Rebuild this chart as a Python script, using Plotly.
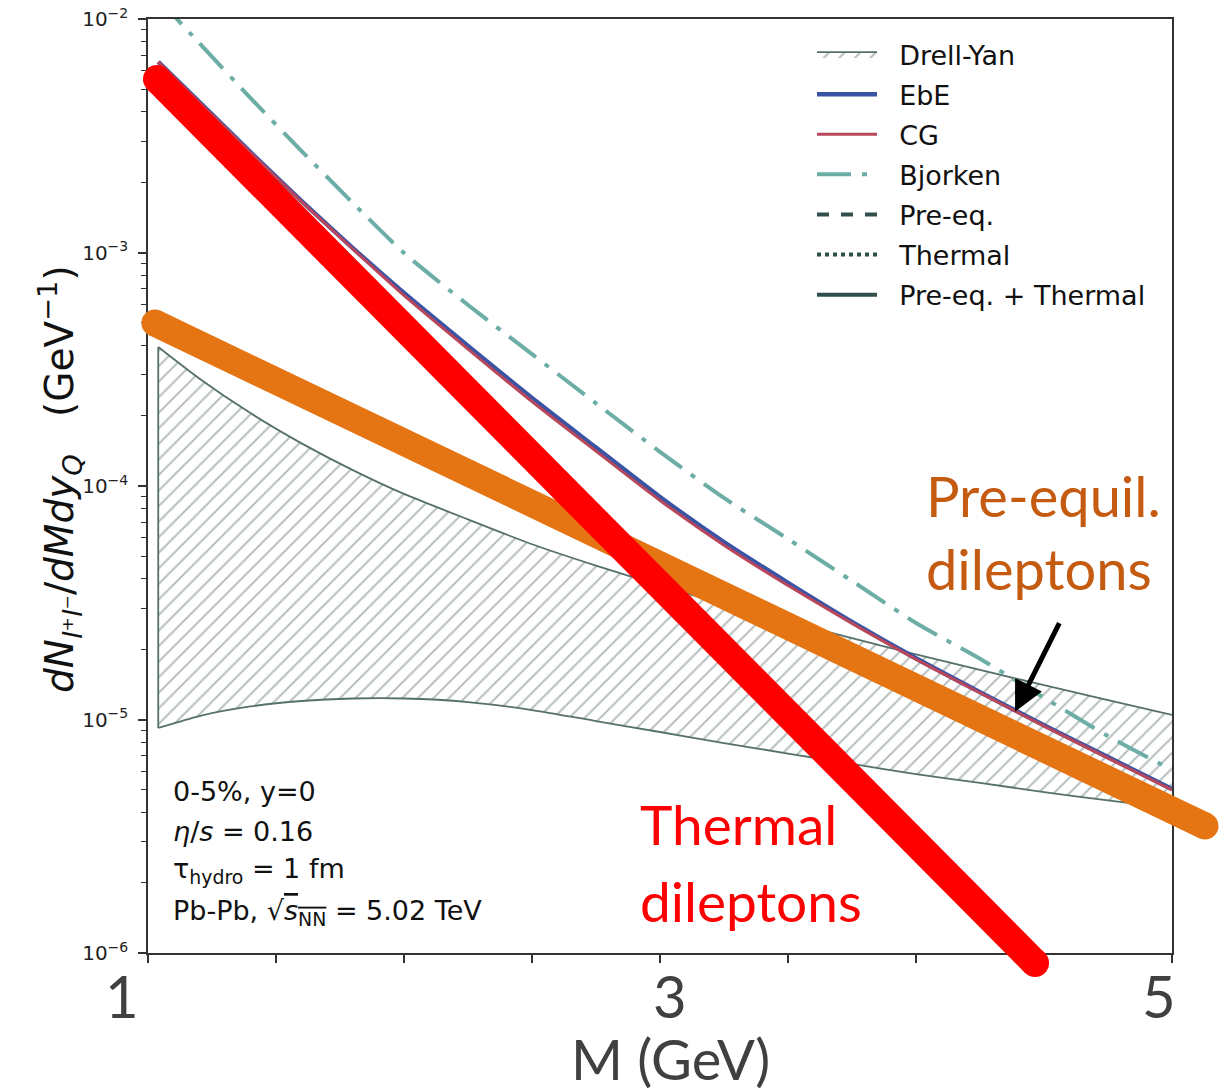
import math
import plotly.graph_objects as go

W, H = 1221, 1089

# ---------------- data ----------------
mass = [1.04, 1.2, 1.4, 1.6, 1.8, 2.0, 2.25, 2.5, 2.75, 3.0, 3.25, 3.5, 3.75, 4.0, 4.25, 4.5, 4.75, 5.0]
ebe = [6.55e-3, 4.42e-3, 2.69e-3, 1.66e-3, 1.045e-3, 6.71e-4, 3.98e-4, 2.38e-4, 1.46e-4, 8.97e-5,
       5.75e-5, 3.85e-5, 2.62e-5, 1.83e-5, 1.31e-5, 9.46e-6, 6.90e-6, 5.04e-6]
cg = [6.55e-3, 4.40e-3, 2.68e-3, 1.65e-3, 1.035e-3, 6.55e-4, 3.86e-4, 2.30e-4, 1.41e-4, 8.67e-5,
      5.58e-5, 3.75e-5, 2.58e-5, 1.81e-5, 1.30e-5, 9.37e-6, 6.83e-6, 4.99e-6]
bjorken = [1.22e-2, 7.89e-3, 4.59e-3, 2.72e-3, 1.63e-3, 9.95e-4, 5.96e-4, 3.67e-4, 2.26e-4, 1.40e-4,
           8.89e-5, 5.93e-5, 3.92e-5, 2.59e-5, 1.82e-5, 1.24e-5, 8.49e-6, 6.08e-6]
dy_upper = [3.935e-4, 2.886e-4, 2.052e-4, 1.523e-4, 1.170e-4, 9.25e-5, 7.19e-5, 5.63e-5, 4.56e-5, 3.75e-5,
            3.12e-5, 2.63e-5, 2.23e-5, 1.90e-5, 1.63e-5, 1.403e-5, 1.21e-5, 1.046e-5]
dy_lower = [9.20e-6, 1.035e-5, 1.137e-5, 1.20e-5, 1.23e-5, 1.23e-5, 1.188e-5, 1.098e-5, 9.85e-6, 8.84e-6,
            7.93e-6, 7.15e-6, 6.45e-6, 5.84e-6, 5.35e-6, 4.89e-6, 4.50e-6, 4.16e-6]

# hand-drawn overlay strokes (start / end points)
thermal_mass = [1.035, 4.465]
thermal_line = [5.53e-3, 9.06e-7]
preeq_mass = [1.027, 5.129]
preeq_line = [4.99e-4, 3.50e-6]

# arrow tip (M, value)
arrow_tip = [4.387, 1.08e-5]

# ticks / labels
x_tick_vals = [1.0, 1.5, 2.0, 2.5, 3.0, 3.5, 4.0, 4.5, 5.0]
x_label_vals = [1, 3, 5]
x_label_text = ["1", "3", "5"]
y_tick_vals = [1e-6, 1e-5, 1e-4, 1e-3, 1e-2]
y_tick_text = ["10<sup>−6</sup>", "10<sup>−5</sup>", "10<sup>−4</sup>", "10<sup>−3</sup>", "10<sup>−2</sup>"]
y_minor_vals = [m * 10.0 ** e for e in range(-6, -2) for m in range(2, 10)]

legend_names = ["Drell-Yan", "EbE", "CG", "Bjorken", "Pre-eq.", "Thermal", "Pre-eq. + Thermal"]
info_lines = [
    "0-5%, y=0",
    "<i>η</i>/<i>s</i> = 0.16",
    "τ<sub>hydro</sub> = 1 fm",
    "Pb-Pb, √<span style='text-decoration:overline'><i>s</i><sub>NN</sub></span> = 5.02 TeV",
]

# ---------------- geometry helpers (text placement) ----------------
def fx(p):
    return p / W


def fy(p):
    return 1 - p / H


x_dom = [fx(148), fx(1172)]
y_dom = [fy(953), fy(19)]
x_rng = [1.0, 5.0]
y_rng = [-6.0, -2.0]
# full-page overlay axes, aligned with the main axes (for strokes that run past the frame)
sx = (x_rng[1] - x_rng[0]) / (x_dom[1] - x_dom[0])
x2_rng = [x_rng[0] - x_dom[0] * sx, x_rng[0] + (1 - x_dom[0]) * sx]
sy = (y_rng[1] - y_rng[0]) / (y_dom[1] - y_dom[0])
y2_rng = [y_rng[0] - y_dom[0] * sy, y_rng[0] + (1 - y_dom[0]) * sy]

SLATE = "#2F4F4A"
DY_EDGE = "#56706B"
PAD = "\u00a0\u00a0"
fig = go.Figure()

# Drell-Yan hatched band: lower edge, then upper edge filled down to it
fig.add_trace(go.Scatter(x=mass, y=dy_lower, mode="lines", showlegend=False, hoverinfo="skip",
                         line=dict(color=DY_EDGE, width=1.8, shape="spline", smoothing=0.6)))
fig.add_trace(go.Scatter(
    x=mass, y=dy_upper, mode="lines", fill="tonexty", fillcolor="rgba(0,0,0,0)",
    fillpattern=dict(shape="/", fgcolor="#6E807C", bgcolor="rgba(0,0,0,0)", size=11, solidity=0.18),
    line=dict(color=DY_EDGE, width=1.8, shape="spline", smoothing=0.6),
    name=PAD + legend_names[0], legendgroup="g0", hoverinfo="skip"))
# left closing edge of the band
fig.add_trace(go.Scatter(x=[mass[0], mass[0]], y=[dy_lower[0], dy_upper[0]], mode="lines",
                         showlegend=False, hoverinfo="skip", line=dict(color=DY_EDGE, width=1.8)))

fig.add_trace(go.Scatter(x=mass, y=ebe, mode="lines", name=PAD + legend_names[1], legendgroup="g1",
                         line=dict(color="#3A54A5", width=4.5, shape="spline", smoothing=0.6)))
fig.add_trace(go.Scatter(x=mass, y=cg, mode="lines", name=PAD + legend_names[2], legendgroup="g2",
                         line=dict(color="#B8475B", width=3, shape="spline", smoothing=0.6)))
fig.add_trace(go.Scatter(x=mass, y=bjorken, mode="lines", name=PAD + legend_names[3], legendgroup="g3",
                         line=dict(color="#6CAEA6", width=4, dash="34px,11px,5px,11px",
                                   shape="spline", smoothing=0.6)))
fig.add_trace(go.Scatter(x=[None], y=[None], mode="lines", name=PAD + legend_names[4], legendgroup="g4",
                         line=dict(color=SLATE, width=4, dash="dash")))
fig.add_trace(go.Scatter(x=[None], y=[None], mode="lines", name=PAD + legend_names[5], legendgroup="g5",
                         line=dict(color=SLATE, width=4, dash="dot")))
fig.add_trace(go.Scatter(x=[None], y=[None], mode="lines", name=PAD + legend_names[6], legendgroup="g6",
                         line=dict(color=SLATE, width=4)))

# thick overlay strokes
fig.add_trace(go.Scatter(x=preeq_mass, y=preeq_line, xaxis="x2", yaxis="y2", mode="lines+markers",
                         line=dict(color="#E57413", width=27), marker=dict(size=27, color="#E57413"),
                         showlegend=False, hoverinfo="skip"))
fig.add_trace(go.Scatter(x=thermal_mass, y=thermal_line, xaxis="x2", yaxis="y2", mode="lines+markers",
                         line=dict(color="#FF0000", width=28), marker=dict(size=28, color="#FF0000"),
                         showlegend=False, hoverinfo="skip"))

AX = "#333333"
fig.update_layout(
    width=W, height=H,
    margin=dict(l=0, r=0, t=0, b=0, pad=0, autoexpand=False),
    paper_bgcolor="white", plot_bgcolor="rgba(0,0,0,0)",
    xaxis=dict(domain=x_dom, range=x_rng, anchor="y", tickmode="array", tickvals=x_tick_vals,
               ticktext=[""] * len(x_tick_vals), ticks="outside", ticklen=8, tickwidth=1.5,
               tickcolor=AX, showline=True, linecolor=AX, linewidth=1.5, mirror=True,
               showgrid=False, zeroline=False, automargin=False),
    yaxis=dict(domain=y_dom, type="log", range=y_rng, anchor="x", tickmode="array",
               tickvals=y_tick_vals, ticktext=y_tick_text, ticks="outside", ticklen=8, tickwidth=1.5,
               tickcolor=AX, showline=True, linecolor=AX, linewidth=1.5, mirror=True,
               showgrid=False, zeroline=False, ticklabelstandoff=6, automargin=False,
               tickfont=dict(family="DejaVu Sans", size=20, color="#222"),
               minor=dict(tickmode="array", tickvals=y_minor_vals, ticks="outside", ticklen=5,
                          tickwidth=1.2, tickcolor=AX, showgrid=False)),
    xaxis2=dict(domain=[0, 1], range=x2_rng, anchor="y2", visible=False, fixedrange=True,
                automargin=False),
    yaxis2=dict(domain=[0, 1], type="log", range=y2_rng, anchor="x2", visible=False, fixedrange=True,
                automargin=False),
    showlegend=True,
    legend=dict(x=fx(812), y=fy(30), xanchor="left", yanchor="top", traceorder="grouped",
                tracegroupgap=2, itemwidth=60, bgcolor="rgba(0,0,0,0)",
                font=dict(family="DejaVu Sans", size=27, color="#111")),
)

ann = []
# big x tick labels
x_shift = [-26, 10, -13]
for v, t, s in zip(x_label_vals, x_label_text, x_shift):
    ann.append(dict(x=v, xref="x", y=fy(995), yref="paper", text=t, showarrow=False, xshift=s,
                    xanchor="center", yanchor="middle",
                    font=dict(family="Lato", size=58, color="#404040")))
# x title
ann.append(dict(x=fx(670), y=fy(1058), xref="paper", yref="paper", text="M (GeV)", showarrow=False,
                xanchor="center", yanchor="middle", font=dict(family="Lato", size=56, color="#404040")))
# y title
ann.append(dict(x=fx(60), y=fy(479), xref="paper", yref="paper", textangle=-90, showarrow=False,
                text="<i>dN</i><sub><i>l</i>⁺<i>l</i>⁻</sub>/<i>dMdy</i><sub><i>Q</i></sub>"
                     "\u00a0\u00a0\u00a0(GeV<sup>−1</sup>)",
                xanchor="center", yanchor="middle", font=dict(family="DejaVu Sans", size=39, color="#111")))
# info box
for t, yc in zip(info_lines, [791, 831, 870, 912]):
    ann.append(dict(x=fx(171), y=fy(yc), xref="paper", yref="paper", text=t, showarrow=False,
                    xanchor="left", yanchor="middle", font=dict(family="DejaVu Sans", size=27, color="#111")))
# overlay labels
for t, yc in zip(["Pre-equil.", "dileptons"], [495, 568]):
    ann.append(dict(x=fx(924), y=fy(yc), xref="paper", yref="paper", text=t, showarrow=False,
                    xanchor="left", yanchor="middle", font=dict(family="Lato", size=56, color="#C55A11")))
for t, yc in zip(["Thermal", "dileptons"], [824, 901]):
    ann.append(dict(x=fx(638), y=fy(yc), xref="paper", yref="paper", text=t, showarrow=False,
                    xanchor="left", yanchor="middle", font=dict(family="Lato", size=55, color="#FF0000")))
# arrow
ann.append(dict(x=arrow_tip[0], y=math.log10(arrow_tip[1]), xref="x", yref="y", ax=45, ay=-90,
                text="", showarrow=True, arrowhead=2, arrowsize=1.2, arrowwidth=5, arrowcolor="black",
                standoff=0))
fig.update_layout(annotations=ann)

fig.write_html("out.html")
